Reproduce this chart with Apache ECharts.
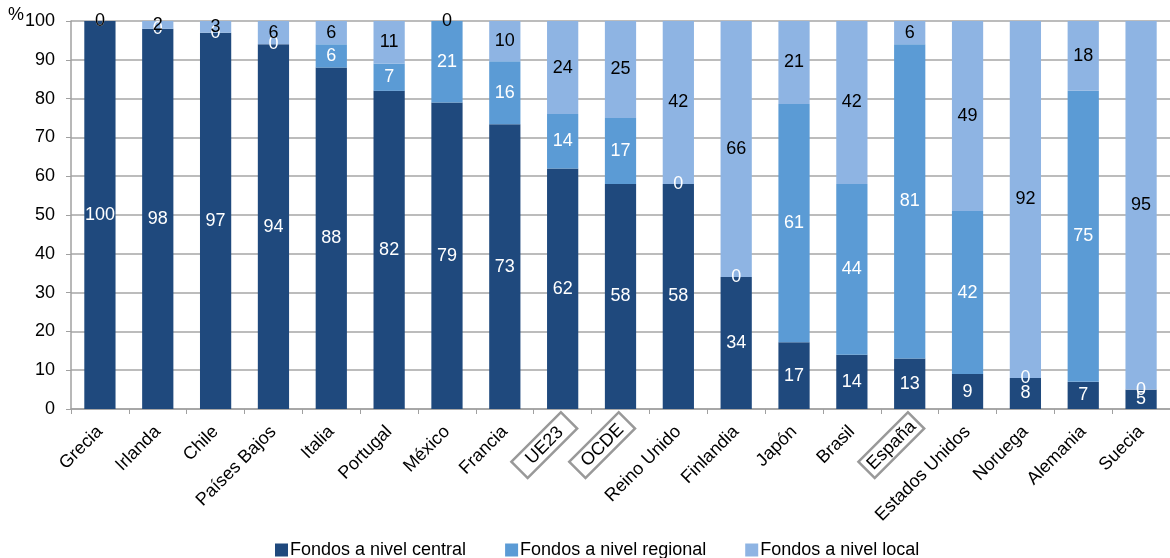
<!DOCTYPE html>
<html><head><meta charset="utf-8">
<script src="https://cdn.jsdelivr.net/npm/echarts@6/dist/echarts.min.js"></script>
<style>html,body{margin:0;padding:0;background:#fff}#c{width:1170px;height:558px}</style>
</head><body><div id="c"></div>
<script>
const categories = ['Grecia','Irlanda','Chile','Países Bajos','Italia','Portugal','México','Francia','UE23','OCDE','Reino Unido','Finlandia','Japón','Brasil','España','Estados Unidos','Noruega','Alemania','Suecia'];
const boxedCategories = ['UE23','OCDE','España'];
const central  = [100, 98, 97, 94, 88, 82, 79, 73.4, 62, 58, 58, 34, 17.2, 14, 13, 9, 8, 7, 5];
const regional = [0, 0, 0, 0, 6, 7, 21, 16.2, 14, 17, 0, 0, 61.4, 44, 81, 42, 0, 75, 0];
const local    = [0, 2, 3, 6, 6, 11, 0, 10.4, 24, 25, 42, 66, 21.4, 42, 6, 49, 92, 18, 95];
const seriesNames = ['Fondos a nivel central','Fondos a nivel regional','Fondos a nivel local'];
const yTicks = [0,10,20,30,40,50,60,70,80,90,100];

const FONT = '"Liberation Sans", Arial, sans-serif';
const FS = 18;
const colors = ['#1F497D','#5B9BD5','#8EB4E3'];
const labelColors = ['#ffffff','#ffffff','#000000'];
const GRAY = '#A0A0A0';

function mk(name, data, i){
  return {
    name, type:'bar', stack:'t', data, barCategoryGap:'46%', xAxisIndex:0,
    itemStyle:{color:colors[i]},
    label:{show:true, position:'inside', color:labelColors[i], fontSize:FS, fontFamily:FONT,
      textBorderWidth:0, formatter:p=>String(Math.round(p.value))}
  };
}

const chart = echarts.init(document.getElementById('c'), null, {renderer:'canvas'});
chart.setOption({
  animation:false,
  color:colors,
  title:{text:'%', left:3, top:1, textStyle:{fontSize:FS, fontWeight:'normal', fontFamily:FONT, color:'#000'}},
  grid:{left:71, right:0, top:21, bottom:149, containLabel:false},
  legend:{top:536, left:270, itemWidth:13, itemHeight:13, itemGap:39, icon:'rect',
    textStyle:{fontSize:FS, fontFamily:FONT, color:'#000', padding:[0,0,0,-3]},
    data:seriesNames},
  xAxis:[{type:'category', data:categories, position:'bottom',
    axisLine:{lineStyle:{color:GRAY, width:1.5}},
    axisTick:{show:true, length:5, lineStyle:{color:GRAY}},
    axisLabel:{interval:0, rotate:45, fontSize:FS, fontFamily:FONT, color:'#000', margin:20,
      formatter:v=> boxedCategories.includes(v) ? '' : v}
  },{type:'category', data:categories, position:'bottom',
    axisLine:{show:false}, axisTick:{show:false}, splitLine:{show:false},
    axisLabel:{interval:0, rotate:45, fontSize:FS, fontFamily:FONT, color:'#000', margin:5,
      align:'right', verticalAlign:'top',
      formatter:v=> boxedCategories.includes(v) ? '{box|'+v+'}' : '',
      rich:{box:{borderColor:'#999999', borderWidth:2.5, padding:[3,11,2,11], width:48, align:'center',
        fontSize:FS, fontFamily:FONT, color:'#000', lineHeight:18}}}
  }],
  yAxis:{type:'value', min:yTicks[0], max:yTicks[yTicks.length-1], interval:10,
    axisLine:{show:true, lineStyle:{color:GRAY, width:1.5}},
    axisTick:{show:true, length:5, lineStyle:{color:GRAY}},
    axisLabel:{fontSize:FS, fontFamily:FONT, color:'#000', margin:16},
    splitLine:{lineStyle:{color:'#A6A6A6', width:1.5}}
  },
  series:[mk(seriesNames[0],central,0), mk(seriesNames[1],regional,1), mk(seriesNames[2],local,2)]
});
</script></body></html>
